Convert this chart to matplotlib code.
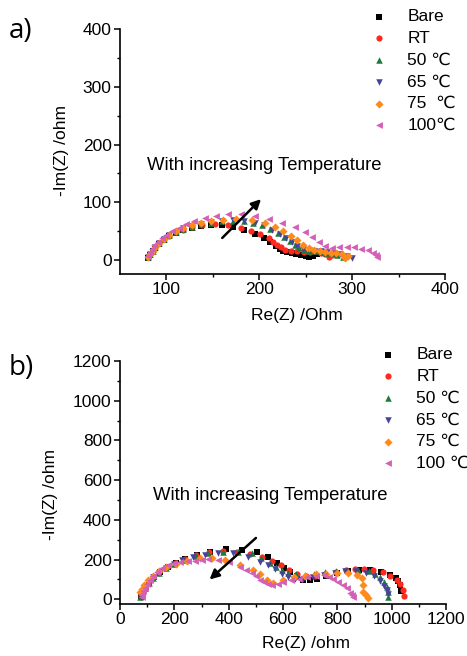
import matplotlib
matplotlib.use("Agg")
import matplotlib.pyplot as plt
from matplotlib.ticker import MultipleLocator, FixedLocator

plt.rcParams['font.family'] = ['Liberation Sans', 'DejaVu Sans']

# ---------------- data (panel a) ----------------
labels_a = ["Bare", "RT", "50 \u2103", "65 \u2103", "75  \u2103", "100\u2103"]
labels_b = ["Bare", "RT", "50 \u2103", "65 \u2103", "75 \u2103", "100 \u2103"]

a_bare_re = [80, 82, 85, 88, 92, 97, 103, 110, 118, 127, 137, 148, 160, 172, 184, 195, 205, 212, 218, 222, 226, 230, 235, 240, 245, 250, 254, 258, 262]
a_bare_im = [4, 9, 15, 21, 28, 35, 41, 47, 52, 56, 59, 61, 61, 58, 53, 46, 39, 32, 25, 19, 15, 14, 12, 10, 9, 7, 5, 8, 11]
a_rt_re = [80, 82, 85, 88, 92, 97, 103, 110, 118, 127, 138, 152, 166, 180, 191, 201, 210, 215, 219, 223, 228, 234, 241, 248, 255, 261, 266, 271, 275, 278]
a_rt_im = [5, 10, 16, 22, 29, 36, 42, 48, 53, 57, 60, 62, 61, 56, 51, 45, 39, 32, 27, 22, 18, 16, 15, 14, 14, 15, 13, 10, 6, 9]
a_50_re = [80, 82, 85, 88, 92, 97, 103, 110, 118, 127, 137, 148, 160, 172, 183, 193, 203, 212, 220, 227, 233, 238, 243, 248, 254, 260, 266, 272, 278, 284, 290]
a_50_im = [5, 10, 16, 22, 29, 36, 43, 49, 54, 58, 62, 65, 67, 68, 67, 64, 60, 54, 47, 40, 33, 26, 21, 17, 15, 15, 14, 13, 12, 9, 5]
a_65_re = [80, 82, 85, 88, 92, 97, 103, 110, 118, 127, 137, 148, 160, 172, 184, 195, 205, 214, 222, 229, 235, 241, 247, 253, 259, 266, 273, 280, 287, 294, 300]
a_65_im = [5, 10, 16, 22, 29, 36, 43, 49, 55, 59, 63, 66, 68, 69, 68, 65, 60, 53, 46, 38, 31, 25, 20, 17, 16, 15, 14, 12, 10, 7, 4]
a_75_re = [80, 82, 85, 88, 92, 97, 103, 110, 118, 127, 137, 148, 161, 175, 192, 206, 217, 226, 234, 241, 247, 253, 259, 265, 271, 277, 283, 289, 292, 295]
a_75_im = [5, 10, 16, 23, 30, 37, 44, 50, 55, 60, 64, 67, 70, 72, 70, 64, 57, 50, 42, 34, 27, 21, 17, 15, 14, 13, 12, 10, 3, 8]
a_100_re = [80, 82, 84, 87, 91, 95, 100, 106, 113, 121, 130, 141, 153, 166, 180, 195, 210, 224, 238, 249, 257, 264, 271, 278, 286, 294, 302, 310, 317, 322, 326, 327]
a_100_im = [8, 14, 20, 26, 32, 38, 44, 50, 56, 62, 68, 73, 77, 80, 80, 77, 72, 65, 58, 48, 40, 31, 24, 21, 22, 23, 22, 20, 17, 13, 9, 6]

# ---------------- data (panel b) ----------------
b_bare_re = [78, 85, 95, 108, 125, 148, 175, 205, 240, 282, 332, 392, 450, 503, 546, 579, 605, 626, 650, 672, 700, 724, 760, 800, 840, 880, 920, 960, 995, 1015, 1024, 1030, 1035]
b_bare_im = [12, 35, 60, 85, 110, 135, 160, 183, 203, 222, 240, 251, 246, 236, 211, 181, 159, 139, 118, 97, 95, 100, 118, 130, 140, 146, 146, 138, 120, 105, 90, 70, 40]
b_rt_re = [76, 83, 93, 106, 123, 145, 172, 202, 238, 280, 328, 380, 432, 480, 522, 560, 592, 622, 652, 684, 718, 755, 795, 832, 865, 899, 932, 967, 994, 1018, 1032, 1040, 1045]
b_rt_im = [15, 38, 63, 88, 113, 138, 162, 185, 205, 222, 236, 242, 238, 228, 215, 195, 170, 145, 128, 118, 118, 125, 135, 145, 152, 152, 147, 136, 117, 97, 75, 45, 17]
b_50_re = [75, 82, 92, 105, 122, 144, 170, 200, 236, 278, 325, 380, 435, 485, 520, 552, 575, 598, 620, 648, 680, 715, 755, 795, 835, 875, 915, 940, 957, 972, 982, 986, 988]
b_50_im = [10, 33, 58, 83, 108, 133, 157, 180, 200, 218, 232, 240, 240, 231, 210, 181, 162, 146, 134, 126, 124, 128, 135, 142, 148, 148, 142, 128, 110, 85, 60, 35, 13]
b_65_re = [76, 83, 93, 106, 123, 145, 170, 198, 230, 268, 312, 362, 417, 473, 515, 545, 572, 596, 618, 645, 675, 710, 750, 790, 830, 870, 905, 935, 957, 972, 982, 988]
b_65_im = [12, 35, 60, 85, 110, 134, 158, 180, 198, 214, 225, 231, 231, 214, 189, 170, 150, 128, 110, 102, 104, 112, 124, 134, 140, 140, 134, 115, 90, 68, 48, 27]
b_75_re = [72, 80, 90, 103, 120, 142, 168, 205, 245, 294, 337, 386, 442, 490, 515, 540, 564, 601, 640, 680, 720, 760, 800, 840, 871, 890, 896, 896, 905, 914]
b_75_im = [35, 50, 72, 95, 118, 140, 160, 180, 194, 206, 206, 197, 172, 147, 125, 97, 83, 97, 110, 118, 125, 128, 132, 130, 122, 105, 72, 38, 20, 5]
b_100_re = [80, 82, 86, 92, 100, 110, 122, 138, 156, 178, 200, 221, 250, 276, 300, 325, 360, 400, 442, 465, 485, 500, 515, 530, 546, 560, 580, 601, 630, 660, 690, 720, 750, 770, 785, 804, 822, 834, 847, 853, 858]
b_100_im = [13, 25, 40, 57, 75, 95, 115, 135, 155, 172, 183, 189, 194, 194, 197, 201, 200, 187, 164, 148, 131, 115, 97, 85, 75, 72, 75, 85, 95, 103, 110, 117, 120, 112, 100, 88, 72, 55, 33, 20, 10]

colors = ["#000000", "#ff2a1f", "#1f7a3a", "#45449a", "#ff8a1a", "#d35fb6"]
markers = ["s", "o", "^", "v", "D", "<"]
sizes = [18, 20, 22, 22, 17, 24]

series_a = [(a_bare_re, a_bare_im), (a_rt_re, a_rt_im), (a_50_re, a_50_im),
            (a_65_re, a_65_im), (a_75_re, a_75_im), (a_100_re, a_100_im)]
series_b = [(b_bare_re, b_bare_im), (b_rt_re, b_rt_im), (b_50_re, b_50_im),
            (b_65_re, b_65_im), (b_75_re, b_75_im), (b_100_re, b_100_im)]

W, H = 467, 656
fig = plt.figure(figsize=(W / 100, H / 100), dpi=100)

def px_axes(l, t, r, b):
    return fig.add_axes([l / W, 1 - b / H, (r - l) / W, (b - t) / H])

ax1 = px_axes(120, 29, 445, 274)
ax2 = px_axes(120, 361, 446, 604)

def style(ax):
    for s in ["top", "right"]:
        ax.spines[s].set_visible(False)
    for s in ["left", "bottom"]:
        ax.spines[s].set_linewidth(1.2)
    ax.tick_params(which="major", direction="out", length=4, width=1.1, labelsize=12.5, pad=2)
    ax.tick_params(which="minor", direction="out", length=2.5, width=1.0)

for ax, series, labels in [(ax1, series_a, labels_a), (ax2, series_b, labels_b)]:
    for (re, im), c, m, s, lab in zip(series, colors, markers, sizes, labels):
        ax.scatter(re, im, s=s, marker=m, color=c, linewidths=0, label=lab, zorder=3)
    style(ax)

# panel a axes
ax1.set_xlim(50, 400)
ax1.set_ylim(-24, 400)
ax1.xaxis.set_major_locator(FixedLocator([100, 200, 300, 400]))
ax1.xaxis.set_minor_locator(FixedLocator([150, 250, 350]))
ax1.yaxis.set_major_locator(MultipleLocator(100))
ax1.yaxis.set_minor_locator(MultipleLocator(50))
ax1.set_xlabel("Re(Z) /Ohm", fontsize=12.5)
ax1.set_ylabel("-Im(Z) /ohm", fontsize=12.5)
ax1.xaxis.set_label_coords((297 - 120) / 325, -(308 - 274) / 245)
ax1.yaxis.set_label_coords(-(120 - 69) / 325, (274 - 150) / 245)

# panel b axes
ax2.set_xlim(0, 1200)
ax2.set_ylim(-24, 1200)
ax2.xaxis.set_major_locator(MultipleLocator(200))
ax2.xaxis.set_minor_locator(MultipleLocator(100))
ax2.yaxis.set_major_locator(MultipleLocator(200))
ax2.yaxis.set_minor_locator(MultipleLocator(100))
ax2.set_xlabel("Re(Z) /ohm", fontsize=12.5)
ax2.set_ylabel("-Im(Z) /ohm", fontsize=12.5)
ax2.xaxis.set_label_coords((306 - 120) / 326, -(636 - 604) / 243)
ax2.yaxis.set_label_coords(-(120 - 58) / 326, (604 - 495) / 243)

# annotations
ax1.text(205, 164, "With increasing Temperature", fontsize=13.3, ha="center", va="center")
ax1.annotate("", xy=(204, 109), xytext=(158, 35),
             arrowprops=dict(arrowstyle="-|>", color="black", lw=1.8, mutation_scale=14))
ax2.text(552, 524, "With increasing Temperature", fontsize=13.3, ha="center", va="center")
ax2.annotate("", xy=(322, 90), xytext=(508, 318),
             arrowprops=dict(arrowstyle="-|>", color="black", lw=1.8, mutation_scale=14))

# legends
leg_kw = dict(frameon=False, loc="upper left", borderpad=0, borderaxespad=0,
              handlelength=1.0, handletextpad=1.15, labelspacing=0.38,
              fontsize=12.5, scatterpoints=1, markerscale=1.0)
ax1.legend(bbox_to_anchor=(370 / W, 1 - 9 / H), bbox_transform=fig.transFigure, **leg_kw)
ax2.legend(bbox_to_anchor=(379 / W, 1 - 347 / H), bbox_transform=fig.transFigure, **leg_kw)

# panel letters
fig.text(9 / W, 1 - 31 / H, "a)", fontsize=20, family="Open Sans", va="center", ha="left")
fig.text(9 / W, 1 - 368 / H, "b)", fontsize=20, family="Open Sans", va="center", ha="left")

fig.savefig("out.png", dpi=100)
